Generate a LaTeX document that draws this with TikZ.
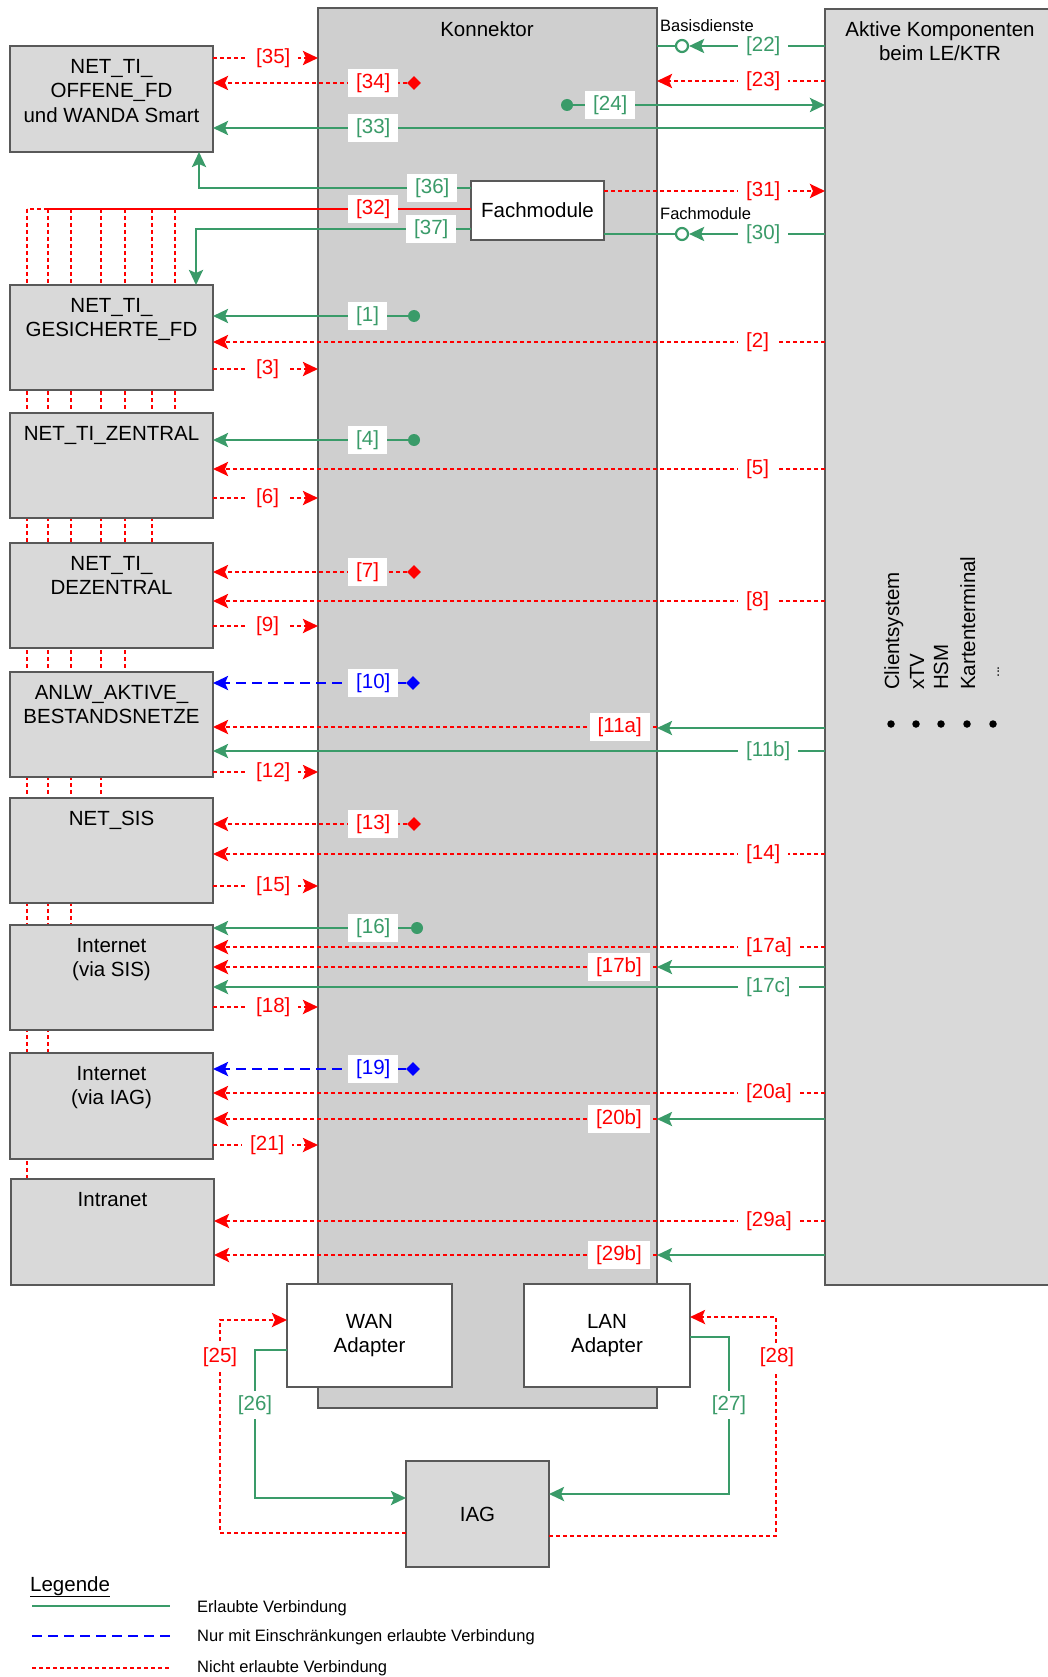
\documentclass[tikz,border=0pt]{standalone}
\usepackage{fontspec}
\setmainfont{Liberation Sans}
\usetikzlibrary{arrows.meta,shapes.geometric,backgrounds}
\definecolor{okgreen}{HTML}{3A9B69}
\definecolor{nored}{HTML}{FF0000}
\definecolor{limblue}{HTML}{0000FF}
\definecolor{kongray}{HTML}{CFCFCF}
\definecolor{boxgray}{HTML}{D9D9D9}
\definecolor{edgec}{HTML}{595959}
\begin{document}
\begin{tikzpicture}[x=1pt,y=-1pt,
 box/.style={draw=edgec, line width=1.3pt, fill=boxgray, anchor=north west, inner sep=0, outer sep=0, font=\fontsize{20.5}{24.5}\selectfont, align=center},
 txt/.style={font=\fontsize{20.5}{24.5}\selectfont, align=center, inner sep=0, anchor=north},
 ok/.style={draw=okgreen, line width=2.6pt},
 no/.style={draw=nored, line width=2.6pt, dash pattern=on 4pt off 3pt},
 lim/.style={draw=limblue, line width=2.6pt, dash pattern=on 10pt off 6pt},
 arr/.style={-{Stealth[length=15pt,width=14pt,inset=3pt]}},
 lab/.style={fill=white, inner xsep=8pt, inner ysep=4pt, font=\fontsize{20.5}{24.5}\selectfont},
 smalltxt/.style={font=\fontsize{16.5}{19}\selectfont, inner sep=0},
 mdot/.style={circle, inner sep=0, minimum size=12pt},
 dmd/.style={diamond, inner sep=0, minimum size=14pt},
 ocirc/.style={circle, draw=okgreen, line width=2.2pt, fill=white, inner sep=0, minimum size=12pt},
 rot/.style={font=\fontsize{20.5}{24}\selectfont, rotate=90, anchor=base west, inner sep=0},
]
\useasboundingbox (0,0) rectangle (1048,1677);

% main blocks
\node[box, fill=kongray, minimum width=339pt, minimum height=1400pt] (kon) at (318,8) {};
\node[txt] (kont) at (487,21) {Konnektor};
\node[box, minimum width=226pt, minimum height=1276pt] (akt) at (825,9) {};
\node[txt] (aktt) at (940,21) {Aktive Komponenten\\beim LE/KTR};
\node[box, fill=white, minimum width=133pt, minimum height=59pt] (fm) at (471,181) {Fachmodule};
\node[box, fill=white, minimum width=165pt, minimum height=103pt] (wan) at (287,1284) {WAN\\Adapter};
\node[box, fill=white, minimum width=166pt, minimum height=103pt] (lan) at (524,1284) {LAN\\Adapter};
\node[box, minimum width=143pt, minimum height=106pt] (iag) at (406,1461) {IAG};

% left boxes
\node[box, minimum width=203pt, minimum height=106pt] (ofd) at (10,46) {};
\node[txt] (ofdt) at (111.5,59) {NET\_TI\_\\OFFENE\_FD\\und WANDA Smart};
\node[box, minimum width=203pt, minimum height=105pt] (gfd) at (10,285) {};
\node[txt] (gfdt) at (111.5,298) {NET\_TI\_\\GESICHERTE\_FD};
\node[box, minimum width=203pt, minimum height=105pt] (zen) at (10,413) {};
\node[txt] (zent) at (111.5,426) {NET\_TI\_ZENTRAL};
\node[box, minimum width=203pt, minimum height=105pt] (dez) at (10,543) {};
\node[txt] (dezt) at (111.5,556) {NET\_TI\_\\DEZENTRAL};
\node[box, minimum width=203pt, minimum height=105pt] (anlw) at (10,672) {};
\node[txt] (anlwt) at (111.5,685) {ANLW\_AKTIVE\_\\BESTANDSNETZE};
\node[box, minimum width=203pt, minimum height=105pt] (sis) at (10,798) {};
\node[txt] (sist) at (111.5,811) {NET\_SIS};
\node[box, minimum width=203pt, minimum height=105pt] (isis) at (10,925) {};
\node[txt] (isist) at (111.5,938) {Internet\\(via SIS)};
\node[box, minimum width=203pt, minimum height=106pt] (iiag) at (10,1053) {};
\node[txt] (iiagt) at (111.5,1066) {Internet\\(via IAG)};
\node[box, minimum width=203pt, minimum height=106pt] (intra) at (11,1179) {};
\node[txt] (intrat) at (112.5,1192) {Intranet};

% vertical red lines behind left boxes
\begin{pgfonlayer}{background}
\draw[no] (27,209) -- (intra.north -| 27,0);
\draw[no] (48,209) -- (iiag.north -| 48,0);
\draw[no] (71,209) -- (isis.north -| 71,0);
\draw[no] (101,209) -- (sis.north -| 101,0);
\draw[no] (125,209) -- (anlw.north -| 125,0);
\draw[no] (152,209) -- (dez.north -| 152,0);
\draw[no] (175,209) -- (zen.north -| 175,0);
\end{pgfonlayer}

% right side list
\node[rot] (cs) at (899,690) {Clientsystem};
\node[rot] (xtv) at (924,690) {xTV};
\node[rot] (hsm) at (948,690) {HSM};
\node[rot] (kt) at (975,690) {Kartenterminal};
\node[font=\fontsize{14}{16}\selectfont, rotate=90, anchor=base west, inner sep=0] (ell) at (999,678) {...};
\foreach \px/\nm in {891/p1,916/p2,941/p3,967/p4,993/p5}
  \node[mdot, minimum size=7.5pt, fill=black] (\nm) at (\px,724) {};

% top: OFFENE_FD
\node[dmd, fill=nored] (m34) at (414,83) {};
\draw[no,arr] (ofd.east |- 0,58) -- (kon.west |- 0,58);
\draw[no,arr] (m34) -- (ofd.east |- m34);
\draw[ok,arr] (akt.west |- 0,128) -- (ofd.east |- 0,128);

% right gap top
\node[ocirc] (c22) at (682,46) {};
\draw[ok,arr] (akt.west |- c22) -- (c22);
\draw[ok] (c22) -- (kon.east |- c22);
\draw[no,arr] (akt.west |- 0,81) -- (kon.east |- 0,81);
\node[mdot, fill=okgreen] (d24) at (567,105) {};
\draw[ok,arr] (d24) -- (akt.west |- d24);
\draw[no,arr] (fm.east |- 0,191) -- (akt.west |- 0,191);
\node[ocirc] (c30) at (682,234) {};
\draw[ok,arr] (akt.west |- c30) -- (c30);
\draw[ok] (c30) -- (fm.east |- c30);
\node[smalltxt, anchor=west] (bd) at (660,26) {Basisdienste};
\node[smalltxt, anchor=west] (fmt) at (660,214) {Fachmodule};

% Fachmodule connectors
\draw[ok,arr] (fm.west |- 0,188) -- (199,188) -- (ofd.south -| 199,0);
\draw[draw=nored, line width=2.6pt] (fm.west |- 0,209) -- (48,209);
\draw[no] (48,209) -- (27,209);
\draw[ok,arr] (fm.west |- 0,229) -- (196,229) -- (gfd.north -| 196,0);

% GESICHERTE_FD
\node[mdot, fill=okgreen] (d1) at (414,316) {};
\draw[ok,arr] (d1) -- (gfd.east |- d1);
\draw[no,arr] (akt.west |- 0,342) -- (gfd.east |- 0,342);
\draw[no,arr] (gfd.east |- 0,369) -- (kon.west |- 0,369);

% ZENTRAL
\node[mdot, fill=okgreen] (d4) at (414,440) {};
\draw[ok,arr] (d4) -- (zen.east |- d4);
\draw[no,arr] (akt.west |- 0,469) -- (zen.east |- 0,469);
\draw[no,arr] (zen.east |- 0,498) -- (kon.west |- 0,498);

% DEZENTRAL
\node[dmd, fill=nored] (m7) at (414,572) {};
\draw[no,arr] (m7) -- (dez.east |- m7);
\draw[no,arr] (akt.west |- 0,601) -- (dez.east |- 0,601);
\draw[no,arr] (dez.east |- 0,626) -- (kon.west |- 0,626);

% ANLW
\node[dmd, fill=limblue] (m10) at (413,683) {};
\draw[lim,arr] (m10) -- (anlw.east |- m10);
\draw[no,arr] (kon.east |- 0,727) -- (anlw.east |- 0,727);
\draw[ok,arr] (akt.west |- 0,728) -- (kon.east |- 0,728);
\draw[ok,arr] (akt.west |- 0,751) -- (anlw.east |- 0,751);
\draw[no,arr] (anlw.east |- 0,772) -- (kon.west |- 0,772);

% NET_SIS
\node[dmd, fill=nored] (m13) at (414,824) {};
\draw[no,arr] (m13) -- (sis.east |- m13);
\draw[no,arr] (akt.west |- 0,854) -- (sis.east |- 0,854);
\draw[no,arr] (sis.east |- 0,886) -- (kon.west |- 0,886);

% Internet via SIS
\node[mdot, fill=okgreen] (d16) at (417,928) {};
\draw[ok,arr] (d16) -- (isis.east |- d16);
\draw[no,arr] (akt.west |- 0,947) -- (isis.east |- 0,947);
\draw[no,arr] (kon.east |- 0,967) -- (isis.east |- 0,967);
\draw[ok,arr] (akt.west |- 0,967) -- (kon.east |- 0,967);
\draw[ok,arr] (akt.west |- 0,987) -- (isis.east |- 0,987);
\draw[no,arr] (isis.east |- 0,1007) -- (kon.west |- 0,1007);

% Internet via IAG
\node[dmd, fill=limblue] (m19) at (413,1069) {};
\draw[lim,arr] (m19) -- (iiag.east |- m19);
\draw[no,arr] (akt.west |- 0,1093) -- (iiag.east |- 0,1093);
\draw[no,arr] (kon.east |- 0,1119) -- (iiag.east |- 0,1119);
\draw[ok,arr] (akt.west |- 0,1119) -- (kon.east |- 0,1119);
\draw[no,arr] (iiag.east |- 0,1145) -- (kon.west |- 0,1145);

% Intranet
\draw[no,arr] (akt.west |- 0,1221) -- (intra.east |- 0,1221);
\draw[no,arr] (kon.east |- 0,1255) -- (intra.east |- 0,1255);
\draw[ok,arr] (akt.west |- 0,1255) -- (kon.east |- 0,1255);

% adapters and IAG
\draw[no,arr] (iag.west |- 0,1533) -- (220,1533) -- (220,1320) -- (wan.west |- 0,1320);
\draw[ok,arr] (wan.west |- 0,1350) -- (255,1350) -- (255,1498) -- (iag.west |- 0,1498);
\draw[ok,arr] (lan.east |- 0,1337) -- (729,1337) -- (729,1494) -- (iag.east |- 0,1494);
\draw[no,arr] (iag.east |- 0,1536) -- (776,1536) -- (776,1317) -- (lan.east |- 0,1317);

% labels
\node[lab, text=nored, anchor=west] (l35) at (248,58) {[35]};
\node[lab, text=nored, anchor=west] (l34) at (348,83) {[34]};
\node[lab, text=okgreen, anchor=west] (l33) at (348,128) {[33]};
\node[lab, text=okgreen, anchor=west] (l22) at (738,46) {[22]};
\node[lab, text=nored, anchor=west] (l23) at (738,81) {[23]};
\node[lab, text=okgreen, anchor=west] (l24) at (585,105) {[24]};
\node[lab, text=nored, anchor=west] (l31) at (738,191) {[31]};
\node[lab, text=okgreen, anchor=west] (l30) at (738,234) {[30]};
\node[lab, text=okgreen, anchor=west] (l36) at (407,188) {[36]};
\node[lab, text=nored, anchor=west] (l32) at (348,209) {[32]};
\node[lab, text=okgreen, anchor=west] (l37) at (406,229) {[37]};
\node[lab, text=okgreen, anchor=west] (l1) at (348,316) {[1]};
\node[lab, text=nored, anchor=west] (l2) at (738,342) {[2]};
\node[lab, text=nored, anchor=west] (l3) at (248,369) {[3]};
\node[lab, text=okgreen, anchor=west] (l4) at (348,440) {[4]};
\node[lab, text=nored, anchor=west] (l5) at (738,469) {[5]};
\node[lab, text=nored, anchor=west] (l6) at (248,498) {[6]};
\node[lab, text=nored, anchor=west] (l7) at (348,572) {[7]};
\node[lab, text=nored, anchor=west] (l8) at (738,601) {[8]};
\node[lab, text=nored, anchor=west] (l9) at (248,626) {[9]};
\node[lab, text=limblue, anchor=west] (l10) at (348,683) {[10]};
\node[lab, text=nored, anchor=east] (l11a) at (650,727) {[11a]};
\node[lab, text=okgreen, anchor=west] (l11b) at (738,751) {[11b]};
\node[lab, text=nored, anchor=west] (l12) at (248,772) {[12]};
\node[lab, text=nored, anchor=west] (l13) at (348,824) {[13]};
\node[lab, text=nored, anchor=west] (l14) at (738,854) {[14]};
\node[lab, text=nored, anchor=west] (l15) at (248,886) {[15]};
\node[lab, text=okgreen, anchor=west] (l16) at (348,928) {[16]};
\node[lab, text=nored, anchor=west] (l17a) at (738,947) {[17a]};
\node[lab, text=nored, anchor=east] (l17b) at (650,967) {[17b]};
\node[lab, text=okgreen, anchor=west] (l17c) at (738,987) {[17c]};
\node[lab, text=nored, anchor=west] (l18) at (248,1007) {[18]};
\node[lab, text=limblue, anchor=west] (l19) at (348,1069) {[19]};
\node[lab, text=nored, anchor=west] (l20a) at (738,1093) {[20a]};
\node[lab, text=nored, anchor=east] (l20b) at (650,1119) {[20b]};
\node[lab, text=nored, anchor=west] (l21) at (242,1145) {[21]};
\node[lab, text=nored, anchor=west] (l29a) at (738,1221) {[29a]};
\node[lab, text=nored, anchor=east] (l29b) at (650,1255) {[29b]};
\node[lab, text=nored] (l25) at (220,1357) {[25]};
\node[lab, text=okgreen] (l26) at (255,1405) {[26]};
\node[lab, text=okgreen] (l27) at (729,1405) {[27]};
\node[lab, text=nored] (l28) at (777,1357) {[28]};

% legend
\node[font=\fontsize{20.5}{24}\selectfont, anchor=base west, inner sep=0] (leg) at (30,1591) {\underline{Legende}};
\coordinate (la1) at (32,1606); \coordinate (la2) at (170,1606);
\coordinate (lb1) at (32,1636); \coordinate (lb2) at (170,1636);
\coordinate (lc1) at (32,1668); \coordinate (lc2) at (170,1668);
\draw[ok] (la1) -- (la2);
\draw[lim] (lb1) -- (lb2);
\draw[no] (lc1) -- (lc2);
\node[smalltxt, anchor=west] (lt1) at (197,1608) {Erlaubte Verbindung};
\node[smalltxt, anchor=west] (lt2) at (197,1637) {Nur mit Einschränkungen erlaubte Verbindung};
\node[smalltxt, anchor=west] (lt3) at (197,1668) {Nicht erlaubte Verbindung};
\end{tikzpicture}
\end{document}
